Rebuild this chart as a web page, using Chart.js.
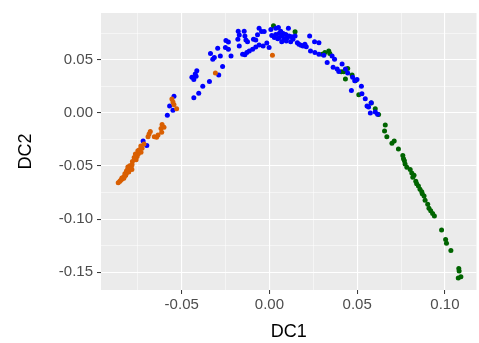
<!DOCTYPE html>
<html>
<head>
  <meta charset="UTF-8">
  <title>DC1 vs DC2</title>
  <script src="https://cdn.jsdelivr.net/npm/chart.js"></script>
  <style>
    body { margin: 0; background: #fff; }
    canvas { display: block; }
  </style>
</head>
<body>
  <canvas id="chart" width="479" height="343"></canvas>

  <script>
    // tick positions (major carry labels, minor are just thin grid lines)
    const xMajor = [-0.05, 0, 0.05, 0.10];
    const xMinor = [-0.075, -0.025, 0.025, 0.075];
    const yMajor = [-0.15, -0.10, -0.05, 0, 0.05];
    const yMinor = [-0.125, -0.075, -0.025, 0.025, 0.075];

    // group 1 (orange)
    const orangeX = [-0.0862,-0.0854,-0.0849,-0.0843,-0.0837,-0.0832,-0.0826,-0.0820,-0.0817,-0.0811,-0.0805,-0.0800,-0.0794,-0.0807,-0.0788,-0.0784,-0.0819,-0.0802,-0.0830,-0.0841,-0.0815,-0.0796,-0.0781,-0.0783,-0.0760,-0.0754,-0.0764,-0.0747,-0.0732,-0.0750,-0.0726,-0.0733,-0.0715,-0.0692,-0.0686,-0.0679,-0.0656,-0.0643,-0.0635,-0.0614,-0.0618,-0.0612,-0.0601,-0.0556,-0.0550,-0.0544,-0.0529,-0.0308,0.0017,-0.0771,-0.0741,-0.0824,-0.0812,-0.0790];
    const orangeY = [-0.0658,-0.0646,-0.0637,-0.0627,-0.0618,-0.0606,-0.0596,-0.0584,-0.0571,-0.0559,-0.0547,-0.0534,-0.0519,-0.0509,-0.0509,-0.0534,-0.0587,-0.0556,-0.0615,-0.0612,-0.0550,-0.0497,-0.0457,-0.0488,-0.0441,-0.0410,-0.0388,-0.0385,-0.0370,-0.0357,-0.0332,-0.0311,-0.0292,-0.0224,-0.0199,-0.0174,-0.0224,-0.0230,-0.0208,-0.0183,-0.0146,-0.0109,-0.0134,0.0130,0.0102,0.0078,0.0040,0.0376,0.0543,-0.0419,-0.0348,-0.0572,-0.0540,-0.0525];

    // group 2 (blue)
    const blueX = [-0.0720,-0.0699,-0.0582,-0.0569,-0.0550,-0.0544,-0.0442,-0.0431,-0.0423,-0.0414,-0.0418,-0.0431,-0.0403,-0.0380,-0.0342,-0.0289,-0.0267,-0.0336,-0.0323,-0.0314,-0.0295,-0.0280,-0.0248,-0.0234,-0.0251,-0.0234,-0.0219,-0.0178,-0.0144,-0.0172,-0.0140,-0.0180,-0.0134,-0.0125,-0.0172,-0.0153,-0.0140,-0.0129,-0.0115,-0.0096,-0.0078,-0.0059,-0.0036,-0.0015,-0.0002,-0.0068,-0.0059,-0.0045,-0.0030,-0.0078,-0.0091,0.0008,0.0036,0.0051,0.0064,0.0036,0.0055,0.0074,0.0093,0.0083,0.0102,0.0112,0.0108,0.0127,0.0134,0.0146,0.0070,0.0096,0.0121,0.0159,0.0168,0.0180,0.0191,0.0202,0.0210,0.0229,0.0257,0.0282,0.0234,0.0259,0.0282,0.0310,0.0329,0.0357,0.0371,0.0363,0.0386,0.0414,0.0395,0.0433,0.0446,0.0474,0.0486,0.0499,0.0524,0.0467,0.0527,0.0546,0.0556,0.0580,0.0565,0.0575,0.0603,0.0616,0.0013,0.0028,0.0047,0.0055,0.0078];
    const blueY = [-0.0264,-0.0307,-0.0022,0.0065,0.0025,0.0158,0.0335,0.0314,0.0366,0.0398,0.0345,0.0143,0.0186,0.0252,0.0295,0.0357,0.0438,0.0559,0.0506,0.0522,0.0609,0.0537,0.0683,0.0668,0.0615,0.0599,0.0537,0.0770,0.0770,0.0733,0.0724,0.0693,0.0686,0.0671,0.0630,0.0553,0.0547,0.0568,0.0584,0.0599,0.0621,0.0640,0.0630,0.0658,0.0615,0.0736,0.0798,0.0767,0.0767,0.0686,0.0693,0.0786,0.0798,0.0804,0.0770,0.0739,0.0748,0.0724,0.0739,0.0693,0.0708,0.0724,0.0798,0.0717,0.0693,0.0724,0.0671,0.0677,0.0671,0.0661,0.0646,0.0637,0.0630,0.0646,0.0624,0.0724,0.0671,0.0661,0.0584,0.0568,0.0553,0.0543,0.0475,0.0537,0.0506,0.0429,0.0413,0.0460,0.0391,0.0413,0.0376,0.0335,0.0304,0.0314,0.0252,0.0211,0.0180,0.0134,0.0065,0.0096,0.0056,0.0000,0.0009,-0.0012,0.0730,0.0711,0.0699,0.0708,0.0748];

    // group 3 (green)
    const greenX = [0.0023,0.0146,0.0301,0.0316,0.0338,0.0344,0.0410,0.0423,0.0433,0.0446,0.0471,0.0490,0.0509,0.0580,0.0603,0.0622,0.0660,0.0656,0.0669,0.0698,0.0711,0.0735,0.0760,0.0764,0.0773,0.0802,0.0811,0.0824,0.0834,0.0849,0.0858,0.0868,0.0881,0.0887,0.0902,0.0909,0.0919,0.0930,0.0940,0.0981,0.1004,0.1009,0.1034,0.1079,0.1076,0.1091,0.0783,0.0817,0.0839,0.0871,0.1081,0.0769];
    const greenY = [0.0820,0.0764,0.0553,0.0568,0.0584,0.0559,0.0388,0.0388,0.0320,0.0419,0.0357,0.0304,0.0171,0.0093,0.0040,-0.0016,-0.0115,-0.0171,-0.0224,-0.0286,-0.0264,-0.0339,-0.0401,-0.0432,-0.0481,-0.0534,-0.0565,-0.0587,-0.0643,-0.0689,-0.0720,-0.0742,-0.0783,-0.0823,-0.0860,-0.0898,-0.0922,-0.0947,-0.0972,-0.1102,-0.1193,-0.1227,-0.1295,-0.1466,-0.1556,-0.1543,-0.0512,-0.0606,-0.0668,-0.0761,-0.1488,-0.0450];

    const toPoints = (xs, ys) => xs.map((x, i) => ({ x: x, y: ys[i] }));
    const isMajor = v => Math.abs(v / 0.05 - Math.round(v / 0.05)) < 1e-6;

    // grey ggplot panel behind the points
    const panelBg = {
      id: "panelBg",
      beforeDraw(chart) {
        const a = chart.chartArea;
        const ctx = chart.ctx;
        ctx.save();
        ctx.fillStyle = "#EBEBEB";
        ctx.fillRect(a.left, a.top, a.right - a.left, a.bottom - a.top);
        ctx.restore();
      }
    };

    function axis(major, minor, min, max, title, isX) {
      const all = major.concat(minor).sort((a, b) => a - b);
      return {
        type: "linear",
        min: min,
        max: max,
        afterBuildTicks: s => { s.ticks = all.map(v => ({ value: v })); },
        afterFit: s => {
          if (isX) s.height = 53; else s.width = 101;
        },
        border: { display: false },
        grid: {
          color: "#FFFFFF",
          lineWidth: c => isMajor(c.tick.value) ? 1.1 : 0.5,
          tickColor: c => isMajor(c.tick.value) ? "#333333" : "rgba(0,0,0,0)",
          tickLength: 4,
          tickWidth: 1
        },
        ticks: {
          autoSkip: false,
          maxRotation: 0,
          padding: isX ? 2 : 4,
          color: "#4D4D4D",
          font: { family: "'Liberation Sans', Arial, sans-serif", size: 15 },
          callback: v => isMajor(v) ? v.toFixed(2) : ""
        },
        title: {
          display: true,
          text: title,
          color: "#000000",
          font: { family: "'Liberation Sans', Arial, sans-serif", size: 18 },
          padding: isX ? { top: 0, bottom: 0 } : { top: 15, bottom: 0 }
        }
      };
    }

    new Chart(document.getElementById("chart").getContext("2d"), {
      type: "scatter",
      data: {
        datasets: [
          { data: toPoints(orangeX, orangeY), backgroundColor: "#D95F02" },
          { data: toPoints(blueX, blueY), backgroundColor: "#0000FF" },
          { data: toPoints(greenX, greenY), backgroundColor: "#006400" }
        ]
      },
      options: {
        responsive: false,
        animation: false,
        layout: { padding: { top: 10, right: 1, left: 0, bottom: 0 } },
        elements: { point: { radius: 2.5, borderWidth: 0, hoverRadius: 2.5 } },
        plugins: { legend: { display: false }, tooltip: { enabled: false } },
        scales: {
          x: axis(xMajor, xMinor, -0.096, 0.118, "DC1", true),
          y: axis(yMajor, yMinor, -0.1668, 0.0941, "DC2", false)
        }
      },
      plugins: [panelBg]
    });
  </script>
</body>
</html>
